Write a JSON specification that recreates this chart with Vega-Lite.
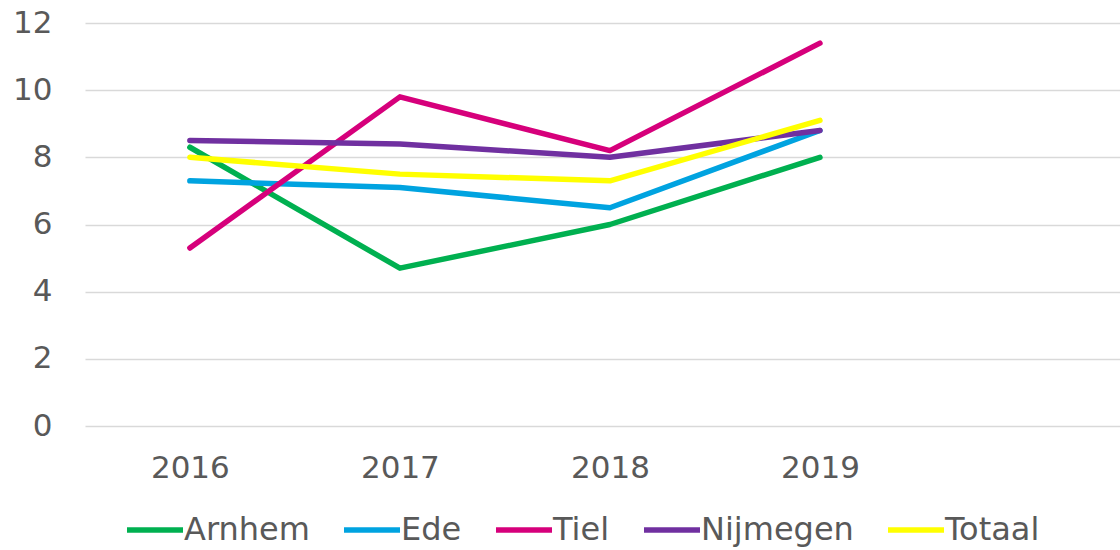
{
  "$schema": "https://vega.github.io/schema/vega-lite/v6.json",
  "autosize": {"type": "none"},
  "width": 1035,
  "height": 403,
  "padding": {"left": 85, "top": 23, "right": 0, "bottom": 124},
  "background": "white",
  "data": {"values": [
    {"jaar": "2016", "gemeente": "Arnhem", "waarde": 8.3},
    {"jaar": "2017", "gemeente": "Arnhem", "waarde": 4.7},
    {"jaar": "2018", "gemeente": "Arnhem", "waarde": 6.0},
    {"jaar": "2019", "gemeente": "Arnhem", "waarde": 8.0},
    {"jaar": "2016", "gemeente": "Ede", "waarde": 7.3},
    {"jaar": "2017", "gemeente": "Ede", "waarde": 7.1},
    {"jaar": "2018", "gemeente": "Ede", "waarde": 6.5},
    {"jaar": "2019", "gemeente": "Ede", "waarde": 8.8},
    {"jaar": "2016", "gemeente": "Tiel", "waarde": 5.3},
    {"jaar": "2017", "gemeente": "Tiel", "waarde": 9.8},
    {"jaar": "2018", "gemeente": "Tiel", "waarde": 8.2},
    {"jaar": "2019", "gemeente": "Tiel", "waarde": 11.4},
    {"jaar": "2016", "gemeente": "Nijmegen", "waarde": 8.5},
    {"jaar": "2017", "gemeente": "Nijmegen", "waarde": 8.4},
    {"jaar": "2018", "gemeente": "Nijmegen", "waarde": 8.0},
    {"jaar": "2019", "gemeente": "Nijmegen", "waarde": 8.8},
    {"jaar": "2016", "gemeente": "Totaal", "waarde": 8.0},
    {"jaar": "2017", "gemeente": "Totaal", "waarde": 7.5},
    {"jaar": "2018", "gemeente": "Totaal", "waarde": 7.3},
    {"jaar": "2019", "gemeente": "Totaal", "waarde": 9.1}
  ]},
  "mark": {"type": "line", "strokeWidth": 5.5, "strokeCap": "round", "strokeJoin": "round"},
  "encoding": {
    "x": {
      "field": "jaar", "type": "ordinal",
      "scale": {"type": "point", "padding": 0.964, "align": 0.259},
      "axis": {
        "title": null, "labelAngle": 0, "ticks": false, "domain": false, "grid": false,
        "labelFont": "DejaVu Sans", "labelFontSize": 31, "labelColor": "#595959",
        "labelPadding": 27
      }
    },
    "y": {
      "field": "waarde", "type": "quantitative",
      "scale": {"domain": [0, 12], "nice": false, "zero": true},
      "axis": {
        "title": null, "values": [0, 2, 4, 6, 8, 10, 12], "ticks": false, "domain": false,
        "grid": true, "gridColor": "#D9D9D9", "gridWidth": 1.5,
        "labelFont": "DejaVu Sans", "labelFontSize": 31, "labelColor": "#595959",
        "labelPadding": 33
      }
    },
    "color": {
      "field": "gemeente", "type": "nominal",
      "scale": {
        "domain": ["Arnhem", "Ede", "Tiel", "Nijmegen", "Totaal"],
        "range": ["#00B050", "#00A3E0", "#D6007B", "#7030A0", "#FFFF00"]
      },
      "legend": {
        "title": null, "orient": "none", "direction": "horizontal",
        "legendX": 39, "legendY": 476,
        "symbolType": "stroke", "symbolSize": 3136, "symbolStrokeWidth": 5.5,
        "labelFont": "DejaVu Sans", "labelFontSize": 32, "labelColor": "#595959",
        "labelOffset": -2, "columnPadding": 23
      }
    }
  },
  "config": {"view": {"stroke": null}}
}
